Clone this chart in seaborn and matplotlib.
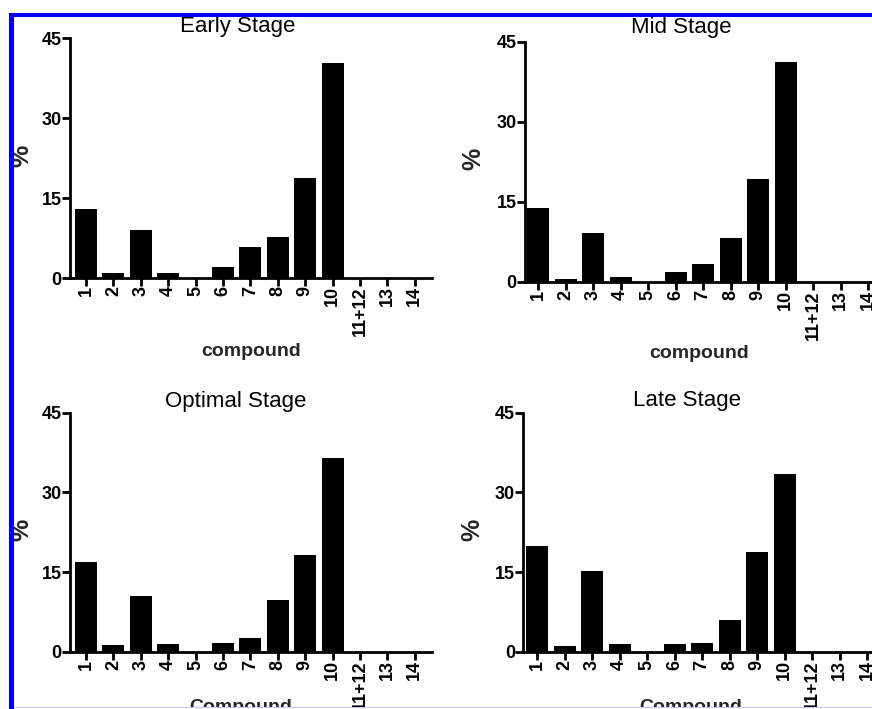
import matplotlib
matplotlib.use("Agg")
import matplotlib.pyplot as plt
import matplotlib.patches as mpatches
import seaborn as sns
import pandas as pd

# ---- data ----
compounds = ["1", "2", "3", "4", "5", "6", "7", "8", "9", "10", "11+12", "13", "14"]
early = [12.9, 1.0, 9.0, 1.0, 0.0, 2.1, 5.9, 7.6, 18.7, 40.4, 0.0, 0.0, 0.0]
mid = [13.9, 0.6, 9.2, 0.9, 0.0, 1.9, 3.4, 8.2, 19.2, 41.2, 0.0, 0.0, 0.0]
optimal = [16.9, 1.2, 10.5, 1.4, 0.0, 1.7, 2.6, 9.8, 18.3, 36.4, 0.0, 0.0, 0.0]
late = [19.9, 1.1, 15.2, 1.4, 0.0, 1.4, 1.6, 5.9, 18.8, 33.5, 0.0, 0.0, 0.0]
titles = ["Early Stage", "Mid Stage", "Optimal Stage", "Late Stage"]
xlabels = ["compound", "compound", "Compound", "Compound"]
yticks = [0, 15, 30, 45]

frames = []
for t, vals in zip(titles, [early, mid, optimal, late]):
    frames.append(pd.DataFrame({"stage": t, "compound": compounds, "value": vals}))
df = pd.concat(frames, ignore_index=True)

sns.set_style("ticks")
plt.rcParams["font.family"] = ["Liberation Sans", "DejaVu Sans"]

W, H = 872, 709
fig = plt.figure(figsize=(W / 100, H / 100), dpi=100)
fig.patch.set_facecolor("white")

def rect(left, top, w, h):
    return [left / W, 1 - (top + h) / H, w / W, h / H]

# layout (pixels): left, top, width, height
panels = [
    dict(r=(70, 38, 362, 240), xl=-0.584, tx=0.464, tpad=4.1, lx=0.5, ly=-0.325, yx=-0.135),
    dict(r=(525, 41.7, 360.6, 240), xl=-0.48, tx=0.433, tpad=6.0, lx=0.482, ly=-0.318, yx=-0.143),
    dict(r=(70, 412.7, 362, 239), xl=-0.584, tx=0.459, tpad=4.3, lx=0.472, ly=-0.252, yx=-0.135),
    dict(r=(523.3, 412.7, 361, 239), xl=-0.51, tx=0.453, tpad=4.8, lx=0.465, ly=-0.252, yx=-0.140),
]

for i, (t, p) in enumerate(zip(titles, panels)):
    ax = fig.add_axes(rect(*p["r"]))
    sub = df[df["stage"] == t]
    sns.barplot(data=sub, x="compound", y="value", order=compounds, color="black",
                saturation=1, width=0.8, linewidth=0, ax=ax)
    ax.set_xlim(p["xl"], 12.63)
    ax.set_ylim(0, 45)
    ax.set_yticks(yticks)
    ax.set_yticklabels([str(v) for v in yticks], fontsize=13, fontweight="bold")
    ax.set_xticks(range(len(compounds)))
    ax.set_xticklabels(compounds, rotation=90, fontsize=13, fontweight="bold")
    for s in ["top", "right"]:
        ax.spines[s].set_visible(False)
    for s in ["left", "bottom"]:
        ax.spines[s].set_linewidth(2)
        ax.spines[s].set_color("black")
    ax.tick_params(axis="both", direction="out", length=5.5, width=2, pad=0.5, colors="black")
    ax.set_facecolor("white")
    ax.set_title(t, fontsize=16, x=p["tx"], y=1.0, pad=p["tpad"], color="black")
    ax.set_xlabel(xlabels[i], fontsize=14, fontweight="bold", va="baseline")
    ax.xaxis.set_label_coords(p["lx"], p["ly"])
    ax.set_ylabel("%", fontsize=18, fontweight="bold", va="center")
    ax.yaxis.set_label_coords(p["yx"], 0.51)

# screenshot frame (blue border, cropped edges)
def frect(x0, y0, x1, y1, color):
    fig.add_artist(mpatches.Rectangle((x0 / W, 1 - y1 / H), (x1 - x0) / W, (y1 - y0) / H,
                                      transform=fig.transFigure, facecolor=color,
                                      edgecolor="none", zorder=100))

frect(0, 0, W, 13, "white")
frect(0, 0, 9, H, "white")
frect(9, 13, W, 17, "#0000ff")
frect(9, 13, 13.5, H, "#0000ff")
frect(13.5, 706.5, W, 707.5, "#c8c8ff")
frect(13.5, 707.5, W, H, "white")

fig.savefig("out.png", dpi=100, facecolor="white")
